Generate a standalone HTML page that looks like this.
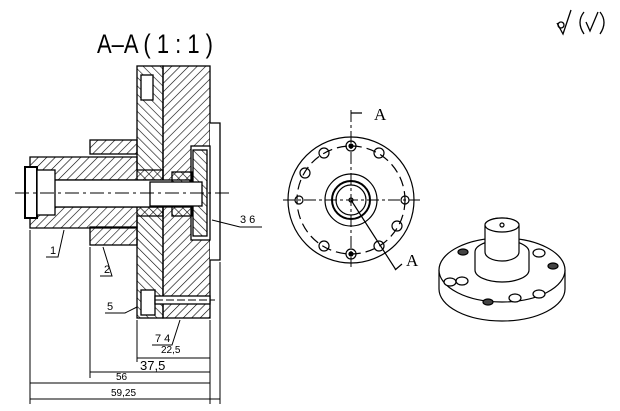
<!DOCTYPE html>
<html><head><style>body{margin:0;background:#fff}svg{display:block}</style></head><body>
<svg width="620" height="411" viewBox="0 0 620 411" xmlns="http://www.w3.org/2000/svg" font-family="Liberation Sans, sans-serif">
<defs>
<pattern id="h" width="6" height="6" patternUnits="userSpaceOnUse" patternTransform="rotate(45)"><line x1="0" y1="0" x2="0" y2="6" stroke="#000" stroke-width="1.2"/></pattern>
<pattern id="h2" width="6" height="6" patternUnits="userSpaceOnUse" patternTransform="rotate(-45)"><line x1="0" y1="0" x2="0" y2="6" stroke="#000" stroke-width="1.2"/></pattern>
</defs>
<text x="97" y="53" font-size="27" textLength="116" lengthAdjust="spacingAndGlyphs" font-family="Liberation Sans Narrow, Liberation Sans, sans-serif">A–A ( 1 : 1 )</text>
<g fill="none" stroke="#000" stroke-width="1.3">
<path d="M557 23 L563 34 L571 10"/><circle cx="561" cy="25" r="3"/>
<path d="M584 12 Q576 22 584 34 M600 12 Q608 22 600 34 M586 22 L590 31 L598 12"/>
</g>
<g stroke="#000" stroke-width="1.3">
<rect x="163" y="66" width="47" height="252" fill="url(#h)"/>
<rect x="137" y="66" width="26" height="252" fill="url(#h2)"/>
<path d="M210 123 H220 V260 H210" fill="#fff"/>
<rect x="191" y="146" width="19" height="94" fill="#fff"/>
<rect x="193" y="150" width="14" height="86" fill="url(#h2)"/>
<rect x="90" y="140" width="47" height="14" fill="url(#h)"/>
<rect x="90" y="227" width="47" height="18" fill="url(#h)"/>
<path d="M30 157 L137 157 L137 170 L163 170 L163 180 L30 180 Z" fill="url(#h)"/>
<path d="M30 228 L137 228 L137 216 L163 216 L163 207 L30 207 Z" fill="url(#h)"/>
<rect x="40" y="180" width="150" height="27" fill="#fff"/>
<rect x="172" y="172" width="20" height="44" fill="url(#h2)"/>
<rect x="150" y="182" width="52" height="24" fill="#fff"/>
<rect x="25" y="167" width="12" height="51" fill="#fff" stroke-width="2"/>
<rect x="37" y="170" width="18" height="45" fill="#fff"/>
<rect x="141" y="75" width="12" height="25" fill="#fff"/>
<rect x="141" y="290" width="14" height="25" fill="#fff"/>
<rect x="155" y="296" width="55" height="8" fill="#fff"/>
</g>
<g stroke="#000" stroke-width="1" fill="none">
<path d="M15 193 H230" stroke-dasharray="14 4 3 4"/>
<path d="M155 300 H215" stroke-dasharray="8 3"/>
<path d="M30 230 V404 M90 247 V378 M137 320 V362 M210 320 V404 M220 262 V404"/>
<path d="M137 358 H210 M90 372 H210 M30 383 H210 M30 399 H220"/>
<path d="M46 257 H58 L64 230 M100 276 H112 L103 247 M105 313 H125 L137 307 M152 345 H172 L180 320 M240 227 H262 M240 227 L212 220"/>
</g>
<g fill="#000" font-size="11">
<text x="161" y="353" font-size="10">22,5</text>
<text x="140" y="370" font-size="13">37,5</text>
<text x="116" y="380" font-size="10">56</text>
<text x="111" y="396" font-size="10">59,25</text>
<text x="50" y="254">1</text><text x="104" y="273">2</text><text x="107" y="310">5</text>
<text x="155" y="342">7 4</text><text x="240" y="223">3 6</text>
</g>
<g stroke="#000" fill="none" stroke-width="1.2">
<circle cx="351" cy="200" r="63"/>
<circle cx="351" cy="200" r="54" stroke-dasharray="10 5"/>
<circle cx="351" cy="200" r="26"/>
<circle cx="351" cy="200" r="19" stroke-width="2"/>
<circle cx="351" cy="200" r="15"/>
<circle cx="351" cy="200" r="2"/>
<path d="M351 110 V267 M283 200 H420" stroke-dasharray="12 3 3 3" stroke-width="1"/>
<path d="M351 200 L396 270 M351 113 H362 M395 270 L402 264"/>
<g stroke-width="1.2">
<circle cx="351" cy="146" r="5"/><circle cx="351" cy="146" r="2" fill="#000"/>
<circle cx="351" cy="254" r="5"/><circle cx="351" cy="254" r="2" fill="#000"/>
<circle cx="405" cy="200" r="4"/><circle cx="299" cy="200" r="4"/>
<circle cx="379" cy="153" r="5"/><circle cx="324" cy="153" r="5"/>
<circle cx="305" cy="173" r="5"/><circle cx="397" cy="226" r="5"/>
<circle cx="379" cy="246" r="5"/><circle cx="324" cy="246" r="5"/>
</g>
</g>
<text x="374" y="120" font-size="17" font-family="Liberation Serif, serif">A</text>
<text x="406" y="266" font-size="17" font-family="Liberation Serif, serif">A</text>
<g stroke="#000" fill="#fff" stroke-width="1.2">
<path d="M439 270 V289 A63 32 0 0 0 565 289 V270"/>
<ellipse cx="502" cy="270" rx="63" ry="32"/>
<path d="M475 270 V252 A27 12 0 0 1 529 252 V270 A27 12 0 0 1 475 270 Z"/>
<path d="M485 252 V225 A17 7 0 0 1 519 225 V252 A17 9 0 0 1 485 252 Z"/>
<ellipse cx="502" cy="225" rx="17" ry="7"/>
<circle cx="502" cy="225" r="2"/>
<ellipse cx="462" cy="281" rx="6" ry="4"/><ellipse cx="515" cy="298" rx="6" ry="4"/>
<ellipse cx="539" cy="294" rx="6" ry="4"/><ellipse cx="539" cy="253" rx="6" ry="4"/>
<ellipse cx="450" cy="282" rx="6" ry="4"/>
<ellipse cx="463" cy="252" rx="5" ry="3" fill="#444"/><ellipse cx="553" cy="266" rx="5" ry="3" fill="#444"/>
<ellipse cx="488" cy="302" rx="5" ry="3" fill="#444"/>
</g>
</svg>
</body></html>
